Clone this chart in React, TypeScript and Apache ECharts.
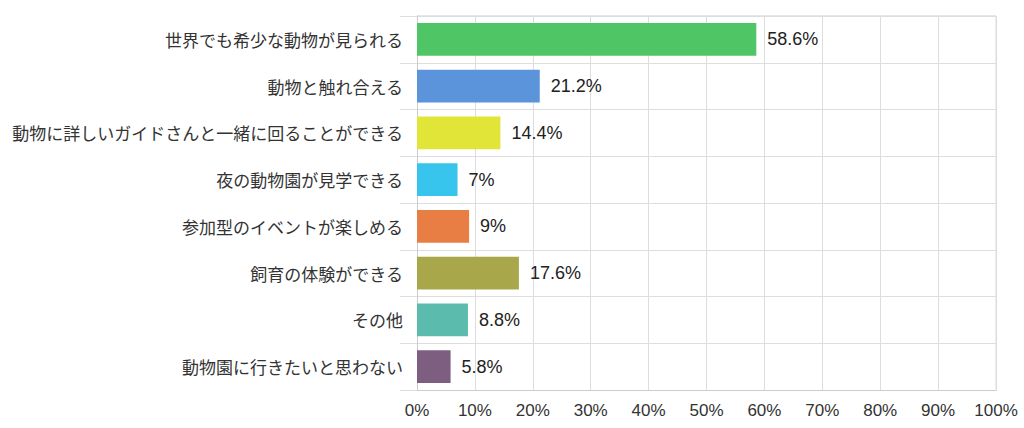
import React, { useEffect, useRef } from "react";
import * as echarts from "echarts";

const categories = [
  "世界でも希少な動物が見られる",
  "動物と触れ合える",
  "動物に詳しいガイドさんと一緒に回ることができる",
  "夜の動物園が見学できる",
  "参加型のイベントが楽しめる",
  "飼育の体験ができる",
  "その他",
  "動物園に行きたいと思わない",
];
const values = [58.6, 21.2, 14.4, 7, 9, 17.6, 8.8, 5.8];
const colors = [
  "#4fc566",
  "#5b94db",
  "#e1e538",
  "#37c5ee",
  "#e87e44",
  "#a8a84b",
  "#5bbcae",
  "#7e5e80",
];

export default function App() {
  const ref = useRef<HTMLDivElement>(null);
  useEffect(() => {
    document.body.style.margin = "0";
    const chart = echarts.init(ref.current!, undefined, { renderer: "svg" });
    chart.setOption({
      animation: false,
      backgroundColor: "#ffffff",
      grid: { left: 417, right: 28, top: 16, bottom: 38, containLabel: false, show: false },
      xAxis: {
        type: "value",
        min: 0,
        max: 100,
        interval: 10,
        position: "bottom",
        axisLine: { show: true, lineStyle: { color: "#cccccc" } },
        axisTick: { show: false },
        splitLine: { show: true, lineStyle: { color: "#dddddd", width: 1 } },
        axisLabel: {
          formatter: "{value}%",
          color: "#333333",
          fontSize: 17,
          fontFamily: "Liberation Sans, Arial, sans-serif",
          margin: 12,
        },
      },
      yAxis: {
        type: "category",
        data: categories,
        inverse: true,
        axisLine: { show: true, lineStyle: { color: "#cccccc" } },
        axisTick: { show: true, length: 17, lineStyle: { color: "#dddddd" } },
        splitLine: { show: true, lineStyle: { color: "#dddddd", width: 1 } },
        axisLabel: {
          color: "#333333",
          fontSize: 17,
          fontFamily: "Noto Sans CJK JP, sans-serif",
          margin: 14,
        },
      },
      graphic: [
        {
          type: "line",
          shape: { x1: 417, y1: 16, x2: 996, y2: 16 },
          style: { stroke: "#cccccc", lineWidth: 1 },
        },
        {
          type: "line",
          shape: { x1: 996, y1: 16, x2: 996, y2: 390 },
          style: { stroke: "#dddddd", lineWidth: 1 },
        },
      ],
      series: [
        {
          type: "bar",
          data: values.map((v, i) => ({ value: v, itemStyle: { color: colors[i] } })),
          barCategoryGap: "30%",
          label: {
            show: true,
            position: "right",
            distance: 11,
            formatter: (p: any) => `${p.value}%`,
            color: "#222222",
            fontSize: 18,
            fontFamily: "Liberation Sans, Arial, sans-serif",
          },
        },
      ],
    });
    return () => chart.dispose();
  }, []);
  return <div ref={ref} style={{ width: 1024, height: 428 }} />;
}
